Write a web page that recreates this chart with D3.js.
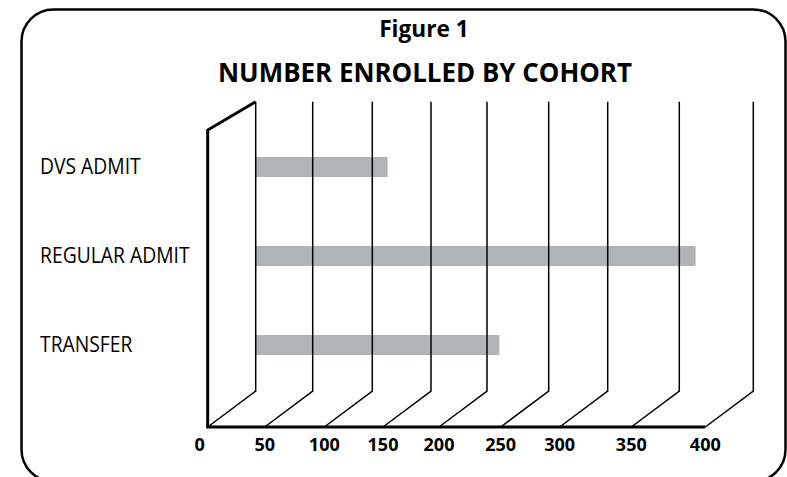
<!DOCTYPE html>
<html>
<head>
<meta charset="utf-8">
<script src="https://cdn.jsdelivr.net/npm/d3@7"></script>
<style>
  html, body { margin: 0; padding: 0; background: #fff; }
  svg { display: block; }
</style>
</head>
<body>
<svg id="chart" width="787" height="477"></svg>
<script>
// ---- data ----
const categories = ["DVS ADMIT", "REGULAR ADMIT", "TRANSFER"];
const enrolled = [113, 361, 210];
const xTicks = [0, 50, 100, 150, 200, 250, 300, 350, 400];
const titleLines = ["Figure 1", "NUMBER ENROLLED BY COHORT"];

// ---- layout (grid positions of the hand-drawn 3D axis, back wall) ----
const backTop = 101.7, backBottom = 391, frontY = 427;
const depthX = 48;
const tickPx = [255.7, 312.7, 372.3, 431, 487, 548.7, 607.7, 679.3, 753.3];
const font = "'Open Sans', 'Noto Sans', sans-serif";

const svg = d3.select("#chart");

// frame
svg.append("rect")
  .attr("x", 21.5).attr("y", 9.5)
  .attr("width", 764).attr("height", 472)
  .attr("rx", 32).attr("ry", 32)
  .attr("fill", "none").attr("stroke", "#000").attr("stroke-width", 2.5);

// titles
svg.append("text")
  .attr("transform", "translate(424,37) scale(0.97,1)")
  .attr("text-anchor", "middle")
  .attr("font-family", font).attr("font-weight", 700).attr("font-size", 23.4)
  .text(titleLines[0]);
svg.append("text")
  .attr("transform", "translate(425,82) scale(0.975,1)")
  .attr("text-anchor", "middle")
  .attr("font-family", font).attr("font-weight", 700).attr("font-size", 26.6)
  .text(titleLines[1]);

// scales
const x = d3.scaleLinear().domain(xTicks).range(tickPx);
const y = d3.scalePoint().domain(categories).range([167, 345]);
const barH = 20;

// bars on the back wall
svg.append("g").selectAll("rect")
  .data(categories.map((c, i) => ({ c, v: enrolled[i] })))
  .join("rect")
  .attr("x", x(0))
  .attr("y", d => y(d.c) - barH / 2)
  .attr("width", d => x(d.v) - x(0))
  .attr("height", barH)
  .attr("fill", "#b1b4b6");

// grid lines: vertical on back wall, then diagonal down to floor front
const front = v => x(v) - depthX;
svg.append("g").selectAll("path")
  .data(xTicks)
  .join("path")
  .attr("d", t => `M${x(t)},${backTop}V${backBottom}L${front(t)},${frontY}`)
  .attr("fill", "none").attr("stroke", "#000").attr("stroke-width", 1.5);

// left wall
svg.append("path")
  .attr("d", `M${front(0)},${frontY}V130L${x(0)},${backTop}`)
  .attr("fill", "none").attr("stroke", "#000").attr("stroke-width", 3)
  .attr("stroke-linejoin", "miter");

// floor front edge
svg.append("line")
  .attr("x1", front(0) - 1.5).attr("x2", front(400))
  .attr("y1", frontY).attr("y2", frontY)
  .attr("stroke", "#000").attr("stroke-width", 2.8);

// tick labels
svg.append("g").selectAll("text")
  .data(xTicks)
  .join("text")
  .attr("x", t => front(t) - (t === 0 ? 8 : 0))
  .attr("y", 451)
  .attr("text-anchor", "middle")
  .attr("font-family", font).attr("font-weight", 700).attr("font-size", 18)
  .text(t => t);

// category labels
svg.append("g").selectAll("text")
  .data(categories)
  .join("text")
  .attr("transform", c => `translate(40,${y(c) + 7}) scale(0.92,1)`)
  .attr("font-family", font).attr("font-size", 21)
  .text(c => c);
</script>
</body>
</html>
